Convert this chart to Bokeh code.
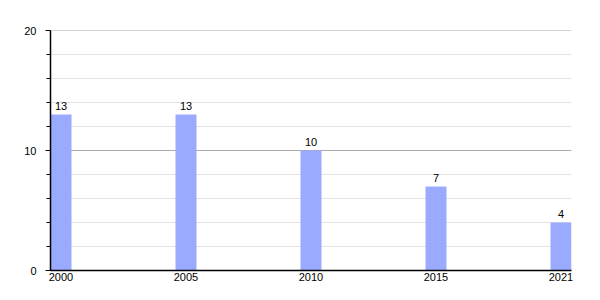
from bokeh.plotting import figure
from bokeh.models import ColumnDataSource, FixedTicker, SingleIntervalTicker, Range1d, Span
from bokeh.core.properties import value
from bokeh.embed import file_html
from bokeh.resources import INLINE

years = ["2000", "2005", "2010", "2015", "2021"]
counts = [13, 13, 10, 7, 4]

idx = list(range(len(years)))
src = ColumnDataSource(data=dict(x=idx, y=counts, lbl=[str(c) for c in counts]))

p = figure(width=600, height=300, output_backend="svg", toolbar_location=None,
           x_range=Range1d(-0.084, len(years) - 1 + 0.084), y_range=Range1d(0, 20),
           min_border_left=50, min_border_right=29, min_border_top=30, min_border_bottom=30)
p.outline_line_color = None
p.background_fill_color = "white"

p.vbar(x="x", top="y", width=0.168, source=src, fill_color="#99aaff", line_color=None)
p.text(x="x", y="y", text="lbl", source=src, text_align="center", text_baseline="bottom",
       y_offset=-5, text_font=value("Liberation Sans"), text_font_size="11px", text_color="black")

# y axis
p.yaxis.ticker = SingleIntervalTicker(interval=10, num_minor_ticks=5)
p.yaxis.axis_line_color = "black"
p.yaxis.axis_line_width = 1.5
p.yaxis.major_tick_out = 5
p.yaxis.major_tick_in = 0
p.yaxis.minor_tick_out = 4
p.yaxis.minor_tick_in = 0
p.yaxis.major_tick_line_color = "black"
p.yaxis.minor_tick_line_color = "black"
p.yaxis.major_label_standoff = 9
p.yaxis.major_label_text_font = "Liberation Sans"
p.yaxis.major_label_text_font_size = "11px"
p.yaxis.major_label_text_color = "black"

p.ygrid.grid_line_color = "#aaaaaa"
p.ygrid.minor_grid_line_color = "#e2e2e2"
p.xgrid.grid_line_color = None
p.add_layout(Span(location=20, dimension="width", line_color="#aaaaaa", line_width=1))

# x axis
p.xaxis.ticker = FixedTicker(ticks=idx)
p.xaxis.major_label_overrides = {i: y for i, y in zip(idx, years)}
p.xaxis.axis_line_color = "black"
p.xaxis.axis_line_width = 1.5
p.xaxis.major_tick_out = 0
p.xaxis.major_tick_in = 0
p.xaxis.minor_tick_out = 0
p.xaxis.major_label_standoff = 2
p.xaxis.major_label_text_font = "Liberation Sans"
p.xaxis.major_label_text_font_size = "11px"
p.xaxis.major_label_text_color = "black"

open("out.html", "w").write(file_html(p, INLINE))
